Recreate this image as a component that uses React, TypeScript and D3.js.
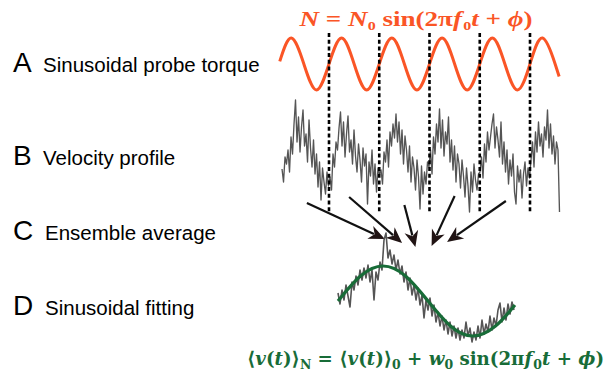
import * as d3 from 'd3';

// probe torque: key samples (cycle units, normalised torque)
const torqueCycle = [0.02, 0.25, 0.5, 0.75, 1, 1.25, 1.5, 1.75, 2, 2.25, 2.5, 2.75, 3, 3.25, 3.5, 3.75, 4, 4.25, 4.5, 4.75, 5, 5.25, 5.5, 5.58];
const torqueLevel = [0.1, 1, 0, -1, 0, 1, 0, -1, 0, 1, 0, -1, 0, 1, 0, -1, 0, 1, 0, -1, 0, 1, 0, -0.48];

// cycle boundaries (dashed lines)
const cycleMarks = [1, 2, 3, 4, 5];

// raw velocity trace (arbitrary units)
const velocity = [
  43, 30, 55, 48, 62, 40, 75, 58, 88, 112, 70, 95, 60, 85, 102, 66, 78, 50, 92, 64,
  45, 72, 38, 58, 25, 50, 12, 44, 30, 18, 40, 26,
  35, 22, 58, 45, 70, 62, 84, 100, 66, 90, 55, 78, 96, 60, 72, 48, 82, 56, 40, 68,
  52, 30, 64, 46, 58, 8, 50, 36, 62, 28, 48, 20, 44, 38,
  42, 28, 60, 50, 72, 45, 80, 66, 88, 74, 98, 70, 90, 58, 82, 48, 76, 62, 40, 66,
  30, 55, 44, 22, 52, 35, 3, 46, 18, 40, 28, 50,
  45, 62, 38, 75, 58, 88, 70, 103, 64, 92, 56, 80, 68, 95, 50, 72, 42, 66, 30, 58,
  48, 24, 52, 36, 15, 44, 26, 0, 40, 20, 48, 32, 22, 38,
  40, 55, 34, 68, 50, 80, 62, 75, 88, 98, 64, 85, 72, 55, 90, 48, 70, 40, 62, 28,
  52, 36, 58, 20, 8, 46, 30, 42, 14, 38, 50, 26, 44, 34,
  52, 70, 45, 80, 60, 90, 66, 78, 55, 85, 72, 102, 64, 88, 58, 76, 48, 70, 62, 0,
];

// ensemble average over one cycle (arbitrary units)
const ensemble = [
  47, 36, 50, 40, 55, 44, 33, 58, 50, 64, 55, 70, 60, 72, 62, 75, 58, 70, 40, 68,
  60, 78, 70, 100, 107, 82, 90, 76, 85, 70, 80, 66, 74, 58, 68, 50, 62, 45, 55, 40,
  52, 35, 45, 22, 40, 30, 42, 24, 35, 18, 28, 14, 24, 10, 20, 6, 18, 4, 14, 2,
  12, 0, 10, 2, 18, 4, 12, -2, 8, 0, 14, 2, 20, 6, 16, 8, 24, 10, 22, 14,
  30, 37, 18, 32, 20, 36, 26, 38, 30,
];

// sinusoidal fit, read at eighth-cycle points
const fitPhase = [0, 0.125, 0.25, 0.375, 0.5, 0.625, 0.75, 0.875, 0.983];
const fitValue = [39, 64, 74, 64, 39, 14, 4, 14, 35];

// arrows: from a cycle of the trace to the ensemble panel
const arrowCycle = [0.56, 1.4, 2.5, 3.5, 4.52];
const arrowFromV = [9, 15, 7, 16, 11];
const arrowToPhase = [0.26, 0.356, 0.43, 0.52, 0.606];
const arrowToV = [101, 97, 93, 94, 98];

const rowLetters = ['A', 'B', 'C', 'D'];
const rowTitles = ['Sinusoidal probe torque', 'Velocity profile', 'Ensemble average', 'Sinusoidal fitting'];
const rowBaseline = [72, 165, 240, 315];
const rowTitleX = [43, 43, 45, 45];

const ORANGE = '#fa5526';
const GREEN = '#186c38';
const TRACE = '#555555';

export default function App() {
  const width = 607;
  const height = 375;

  const x = d3.scaleLinear().domain([1, 5]).range([329, 530]);
  const yTorque = d3.scaleLinear().domain([-1, 1]).range([90, 38]);
  const yVel = d3.scaleLinear().domain([0, 115]).range([212, 97]);
  const sampleT = d3.scaleLinear().domain([0, velocity.length - 1]).range([0.065, 5.587]);

  const xPhase = d3.scaleLinear().domain([0, 1]).range([338, 518]);
  const ensPhase = d3.scaleLinear().domain([0, ensemble.length - 1]).range([0, 176 / 180]);
  const yEns = d3.scaleLinear().domain([0, 110]).range([340, 230]);

  const torqueLine = d3.line<number>()
    .x((_, i) => x(torqueCycle[i]))
    .y(d => yTorque(d))
    .curve(d3.curveNatural);

  const velLine = d3.line<number>()
    .x((_, i) => x(sampleT(i)))
    .y(d => yVel(d));

  const ensLine = d3.line<number>()
    .x((_, i) => xPhase(ensPhase(i)))
    .y(d => yEns(d));

  const fitLine = d3.line<number>()
    .x((_, i) => xPhase(fitPhase[i]))
    .y(d => yEns(d))
    .curve(d3.curveNatural);

  const arrows = arrowCycle.map((c, i) => {
    const x1 = x(c), y1 = yVel(arrowFromV[i]);
    const x2 = xPhase(arrowToPhase[i]), y2 = yEns(arrowToV[i]);
    const ang = Math.atan2(y2 - y1, x2 - x1);
    const len = 16, half = 7;
    const cos = Math.cos(ang), sin = Math.sin(ang);
    const bx = x2 - len * cos, by = y2 - len * sin;
    const nx = -sin, ny = cos;
    const head = `M${x2},${y2}L${bx + nx * half},${by + ny * half}L${x2 - len * 0.7 * cos},${y2 - len * 0.7 * sin}L${bx - nx * half},${by - ny * half}Z`;
    return { x1, y1, bx: x2 - len * 0.75 * cos, by: y2 - len * 0.75 * sin, head };
  });

  const sub = { fontSize: 13 };

  return (
    <svg width={width} height={height} style={{ position: 'absolute', left: 0, top: 0, background: '#fff' }}>
      {rowLetters.map((l, i) => (
        <g key={l} fontFamily="Liberation Sans, Arial, sans-serif" fill="#000">
          <text x={13} y={rowBaseline[i]} fontSize={28}>{l}</text>
          <text x={rowTitleX[i]} y={rowBaseline[i]} fontSize={20.5}>{rowTitles[i]}</text>
        </g>
      ))}

      <text x={416} y={26} textAnchor="middle" fill={ORANGE} fontFamily="Liberation Serif, serif"
        fontWeight="bold" fontSize={22} textLength={233} lengthAdjust="spacingAndGlyphs">
        <tspan fontStyle="italic">N</tspan>
        <tspan> = </tspan>
        <tspan fontStyle="italic">N</tspan>
        <tspan dy={4} style={sub}>0</tspan>
        <tspan dy={-4}> sin(2π</tspan>
        <tspan fontStyle="italic">f</tspan>
        <tspan dy={4} dx={1} style={sub}>0</tspan>
        <tspan dy={-4} fontStyle="italic">t</tspan>
        <tspan> + </tspan>
        <tspan fontStyle="italic">ϕ</tspan>
        <tspan>)</tspan>
      </text>

      <path d={torqueLine(torqueLevel) || ''} fill="none" stroke={ORANGE} strokeWidth={3} />

      <path d={velLine(velocity) || ''} fill="none" stroke={TRACE} strokeWidth={1.35} strokeLinejoin="round" />

      {cycleMarks.map(c => (
        <line key={c} x1={x(c)} x2={x(c)} y1={33} y2={212}
          stroke="#000" strokeWidth={2.6} strokeDasharray="4,2.7" />
      ))}

      {arrows.map((a, i) => (
        <g key={i}>
          <line x1={a.x1} y1={a.y1} x2={a.bx} y2={a.by} stroke="#111" strokeWidth={2.2} />
          <path d={a.head} fill="#211414" />
        </g>
      ))}

      <path d={ensLine(ensemble) || ''} fill="none" stroke={TRACE} strokeWidth={1.6} strokeLinejoin="round" />
      <path d={fitLine(fitValue) || ''} fill="none" stroke={GREEN} strokeWidth={3.2} />

      <text x={247} y={365} fill={GREEN} fontFamily="DejaVu Serif, Liberation Serif, serif"
        fontWeight="bold" fontSize={19} textLength={357} lengthAdjust="spacingAndGlyphs">
        <tspan>⟨</tspan>
        <tspan fontStyle="italic">v</tspan>
        <tspan>(</tspan>
        <tspan fontStyle="italic">t</tspan>
        <tspan>)⟩</tspan>
        <tspan dy={4} style={sub}>N</tspan>
        <tspan dy={-4}> = ⟨</tspan>
        <tspan fontStyle="italic">v</tspan>
        <tspan>(</tspan>
        <tspan fontStyle="italic">t</tspan>
        <tspan>)⟩</tspan>
        <tspan dy={4} style={sub}>0</tspan>
        <tspan dy={-4}> + </tspan>
        <tspan fontStyle="italic">w</tspan>
        <tspan dy={4} style={sub}>0</tspan>
        <tspan dy={-4}> sin(2π</tspan>
        <tspan fontStyle="italic">f</tspan>
        <tspan dy={4} dx={1} style={sub}>0</tspan>
        <tspan dy={-4} fontStyle="italic">t</tspan>
        <tspan> + </tspan>
        <tspan fontStyle="italic">ϕ</tspan>
        <tspan>)</tspan>
      </text>
    </svg>
  );
}
